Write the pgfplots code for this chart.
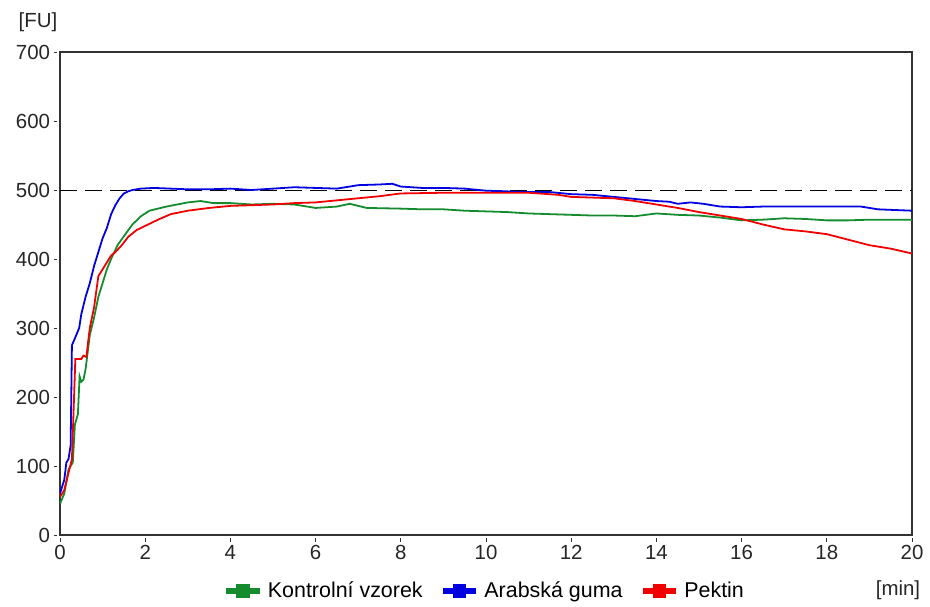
\documentclass[border=0pt]{standalone}
\usepackage{fontspec}
\setmainfont{Liberation Sans}
\usepackage{pgfplots}
\pgfplotsset{compat=1.18}
\definecolor{cgreen}{RGB}{20,140,45}
\definecolor{cblue}{RGB}{0,0,225}
\definecolor{cred}{RGB}{240,0,0}
\begin{document}
\begin{tikzpicture}
\path[use as bounding box] (-60bp,-72bp) rectangle (870bp,535bp);
\begin{axis}[
  name=ax,
  scale only axis,
  width=852bp, height=483bp,
  at={(0,0)}, anchor=south west,
  xmin=0, xmax=20, ymin=0, ymax=700,
  xtick={0,2,...,20}, ytick={0,100,...,700},
  axis line style={black!80, line width=1.3pt},
  tick align=outside,
  tick pos=left,
  major tick length=3.5bp,
  x tick style={black!80, line width=1pt, yshift=-3bp},
  y tick style={black!80, line width=1pt, xshift=-3bp},
  /pgf/number format/assume math mode=true,
  ticklabel style={font=\fontsize{20.5}{22}\selectfont, text=black!85},
  yticklabel style={xshift=-3bp},
  xticklabel style={yshift=-3bp},
  legend style={draw=none, fill=none, at={(0.5,-0.093)}, anchor=north,
    font=\fontsize{21.5}{23}\selectfont, column sep=6bp, inner sep=0pt,
    /tikz/every even column/.append style={column sep=18bp}},
  legend columns=3,
  legend image code/.code={
    \fill[#1] (0bp,-2bp) rectangle (32bp,2bp);
    \fill[#1] (10bp,-6bp) rectangle (22bp,6bp);
  },
  clip=true,
]
\addplot[black, line width=1pt, dash pattern=on 17bp off 8bp, forget plot] coordinates {(0,500) (20,500)};

\addplot[cgreen, line width=1.8pt] coordinates {
(0,45) (0.1,60) (0.2,95) (0.3,105) (0.35,160) (0.42,175) (0.46,230) (0.5,222) (0.55,225) (0.6,240)
(0.7,290) (0.8,315) (0.9,345) (1.0,365) (1.1,385) (1.2,400) (1.35,420) (1.5,433) (1.7,450) (1.9,462)
(2.1,470) (2.5,476) (3.0,482) (3.3,484) (3.6,481) (4.0,481) (4.5,479) (5.0,480) (5.5,479) (6.0,474)
(6.5,476) (6.8,480) (7.2,474) (8.0,473) (8.5,472) (9.0,472) (9.5,470) (10.0,469) (10.5,468) (11.0,466)
(11.5,465) (12.0,464) (12.5,463) (13.0,463) (13.5,462) (14.0,466) (14.5,464) (15.0,463) (15.5,460)
(16.0,456) (16.5,457) (17.0,459) (17.5,458) (18.0,456) (18.5,456) (19.0,457) (20.0,457)
};
\addlegendentry{Kontrolní vzorek}

\addplot[cblue, line width=1.8pt] coordinates {
(0,60) (0.1,80) (0.15,105) (0.2,110) (0.25,130) (0.28,275) (0.35,285) (0.45,300) (0.5,320) (0.6,345)
(0.7,365) (0.8,390) (0.9,410) (1.0,430) (1.1,445) (1.2,465) (1.3,478) (1.4,488) (1.5,495) (1.6,498)
(1.7,500) (1.9,502) (2.2,503) (2.6,502) (3.0,501) (3.5,501) (4.0,502) (4.5,500) (5.0,502) (5.5,504)
(6.0,503) (6.5,502) (7.0,507) (7.5,508) (7.8,509) (8.0,505) (8.5,503) (9.0,503) (9.5,502) (10.0,499)
(10.5,498) (11.0,497) (11.5,497) (12.0,494) (12.5,493) (13.0,490) (13.5,487) (14.0,484) (14.3,483)
(14.5,480) (14.8,482) (15.1,480) (15.5,476) (16,475) (16.5,476) (17,476) (18,476) (18.8,476)
(19.2,472) (20,470)
};
\addlegendentry{Arabská guma}

\addplot[cred, line width=1.8pt] coordinates {
(0,55) (0.1,65) (0.2,90) (0.28,110) (0.33,200) (0.36,255) (0.5,255) (0.55,260) (0.62,258) (0.66,280)
(0.7,300) (0.8,330) (0.9,375) (1.0,385) (1.1,395) (1.2,405) (1.3,410) (1.45,420) (1.6,432) (1.8,442)
(2.0,448) (2.3,457) (2.6,465) (3.0,470) (3.5,474) (4.0,477) (4.5,478) (5.0,479) (5.5,481) (6.0,482)
(6.5,485) (7.0,488) (7.5,491) (8.0,495) (9.0,496) (10.0,496) (11.0,496) (11.7,493) (12.0,490)
(12.5,489) (13.0,488) (13.5,484) (14.0,479) (14.5,474) (15.0,468) (15.5,463) (16.0,458) (16.5,450)
(17.0,443) (17.5,440) (18.0,436) (18.5,428) (19.0,420) (19.5,415) (20.0,408)
};
\addlegendentry{Pektin}
\end{axis}
\node[font=\fontsize{20.5}{22}\selectfont, text=black!85] at ([xshift=-22bp,yshift=30bp]ax.north west) {[FU]};
\node[font=\fontsize{20.5}{22}\selectfont, text=black!85] at ([xshift=-14bp,yshift=-55bp]ax.south east) {[min]};
\end{tikzpicture}
\end{document}
